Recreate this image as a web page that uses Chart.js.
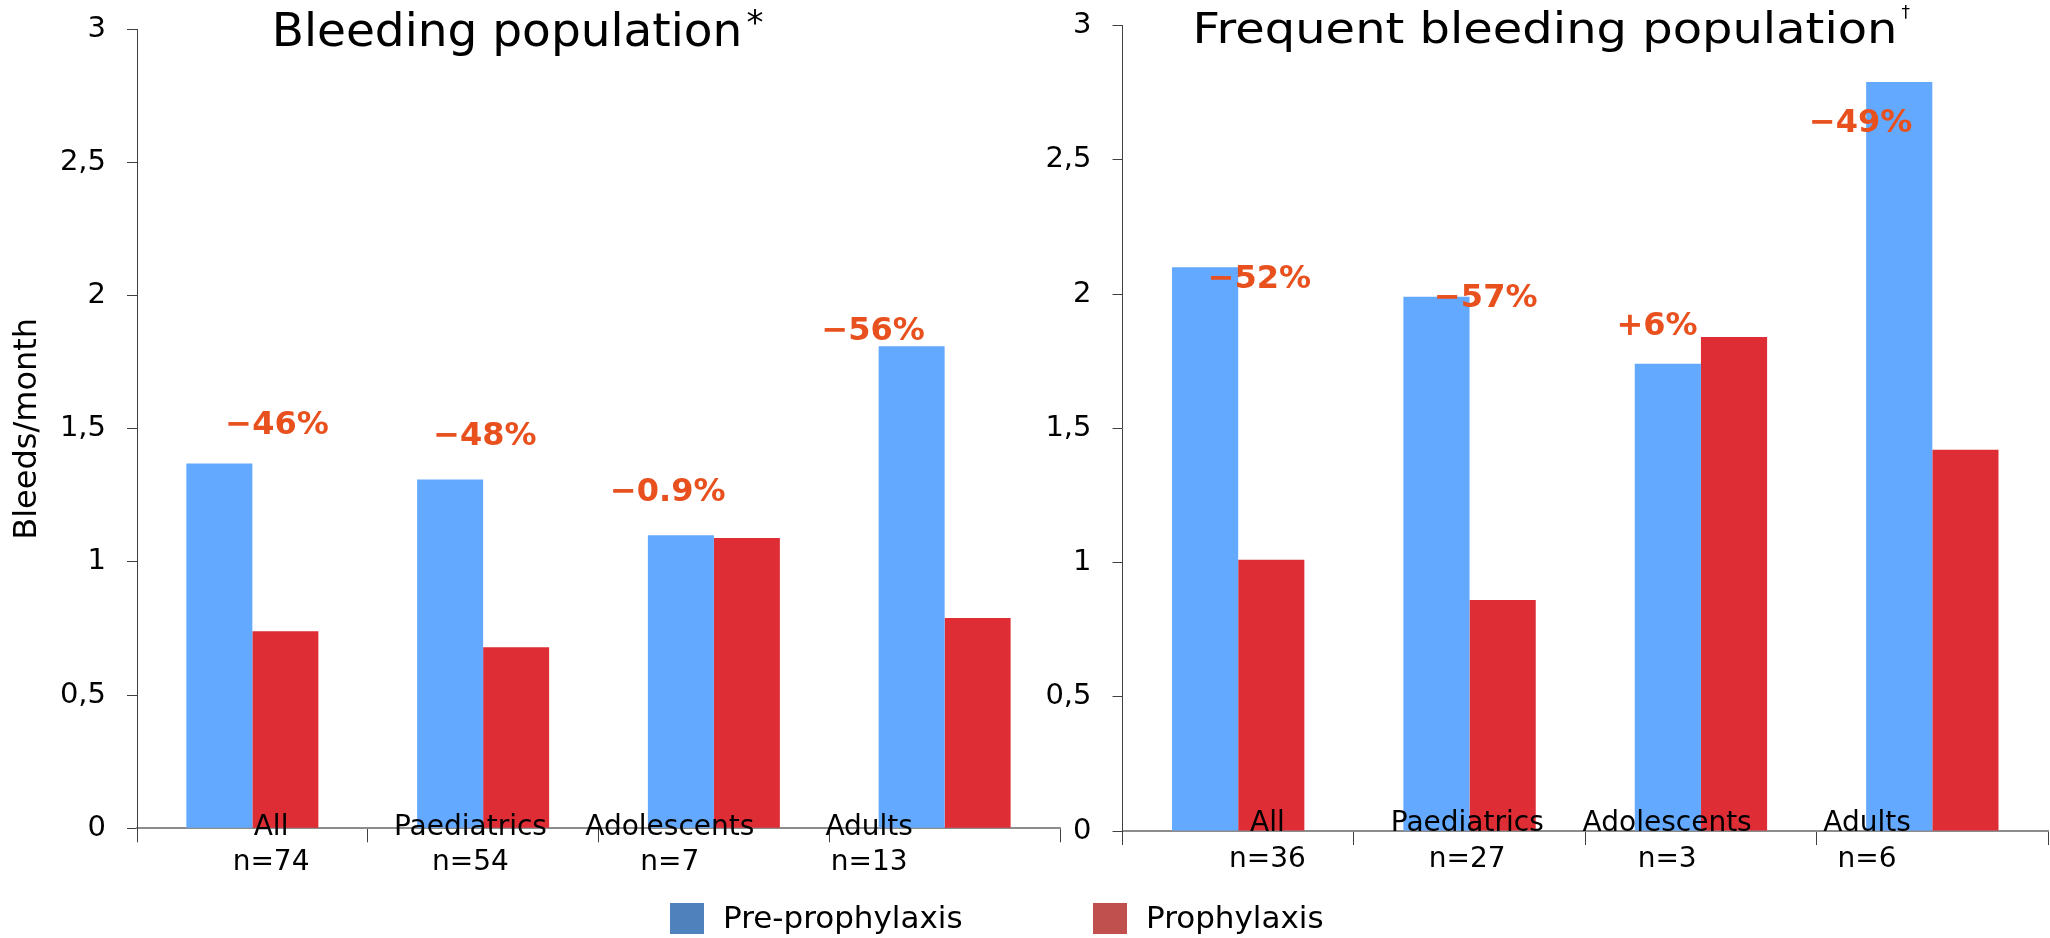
<!DOCTYPE html>
<html>
<head>
<meta charset="utf-8">
<title>Bleeds per month before and during prophylaxis</title>
<script src="https://cdn.jsdelivr.net/npm/chart.js@4.4.1/dist/chart.umd.min.js"></script>
<style>
  html, body { margin: 0; padding: 0; background: #ffffff; }
  #wrap { position: relative; width: 2050px; height: 938px; overflow: hidden; }
  #wrap canvas { position: absolute; left: 0; top: 0; }
</style>
</head>
<body>
<div id="wrap">
  <canvas id="bleedAll" width="2050" height="938"></canvas>
  <canvas id="bleedFrequent" width="2050" height="938"></canvas>
</div>
<script>
// ---- data ----
const groups = ['All', 'Paediatrics', 'Adolescents', 'Adults'];
const seriesNames = ['Pre-prophylaxis', 'Prophylaxis'];

// Bleeding population
const allCounts = ['n=74', 'n=54', 'n=7', 'n=13'];
const allPre = [1.37, 1.31, 1.10, 1.81];
const allProphy = [0.74, 0.68, 1.09, 0.79];
const allChange = ['\u221246%', '\u221248%', '\u22120.9%', '\u221256%'];

// Frequent bleeding population
const freqCounts = ['n=36', 'n=27', 'n=3', 'n=6'];
const freqPre = [2.10, 1.99, 1.74, 2.79];
const freqProphy = [1.01, 0.86, 1.84, 1.42];
const freqChange = ['\u221252%', '\u221257%', '+6%', '\u221249%'];

const yTickLabels = ['0', '0,5', '1', '1,5', '2', '2,5', '3'];

// ---- styling ----
const FONT = 'DejaVu Sans';
const BAR_COLORS = ['#63A9FF', '#DE2D35'];
const LEGEND_COLORS = ['#4F81BD', '#C0504D'];
const CHANGE_COLOR = '#E8501E';
const AXIS_DARK = '#404040';

Chart.defaults.font.family = FONT;
Chart.defaults.color = '#000';

function stretchedText(ctx, text, x, y, sx) {
  ctx.save();
  ctx.translate(x, y);
  ctx.scale(sx, 1);
  ctx.fillText(text, 0, 0);
  ctx.restore();
  return ctx.measureText(text).width * sx;
}

// Panel title, two-line group labels and the change annotations
const panelText = {
  id: 'panelText',
  afterDatasetsDraw(chart, args, o) {
    const { ctx, chartArea } = chart;
    const xs = chart.scales.x, ys = chart.scales.y;
    ctx.save();
    ctx.fillStyle = '#000';
    ctx.textBaseline = 'alphabetic';

    ctx.textAlign = 'left';
    ctx.font = `${o.titleSize}px "${FONT}"`;
    const tx = chartArea.left + o.titleIndent;
    const tw = stretchedText(ctx, o.title, tx, o.titleBaseline, o.titleStretch);
    ctx.font = `${o.supSize}px "${FONT}"`;
    ctx.fillText(o.sup, tx + tw + o.supGap, o.titleBaseline - o.supRise);

    ctx.textAlign = 'center';
    ctx.font = `28px "${FONT}"`;
    groups.forEach((g, i) => {
      const x = xs.getPixelForValue(o.labelStart + i * o.labelStep);
      ctx.fillText(g, x, chartArea.bottom + o.line1);
      ctx.fillText(o.counts[i], x, chartArea.bottom + o.line2);
    });

    ctx.font = `bold 32px "${FONT}"`;
    ctx.fillStyle = CHANGE_COLOR;
    o.changes.forEach((t, i) => {
      const [ax, ay] = o.anchors[i];
      ctx.fillText(t, xs.getPixelForValue(ax), ys.getPixelForValue(ay) + 11.7);
    });
    ctx.restore();
  }
};

// Shared legend row under both panels
const legendRow = {
  id: 'legendRow',
  afterDraw(chart, args, o) {
    if (!o.show) return;
    const ctx = chart.ctx;
    ctx.save();
    ctx.font = `31px "${FONT}"`;
    ctx.textBaseline = 'middle';
    ctx.textAlign = 'left';
    chart.data.datasets.forEach((ds, i) => {
      const x = o.x[i];
      ctx.fillStyle = LEGEND_COLORS[i];
      ctx.fillRect(x, o.y - 15.5, 34, 31);
      ctx.fillStyle = '#000';
      ctx.fillText(ds.label, x + 53, o.y + 1);
    });
    ctx.restore();
  }
};

function makePanel(id, pre, prophy, pad, showYTitle, text, legend) {
  return new Chart(document.getElementById(id), {
    type: 'bar',
    data: {
      labels: groups,
      datasets: [
        { label: seriesNames[0], data: pre, backgroundColor: BAR_COLORS[0], borderWidth: 0 },
        { label: seriesNames[1], data: prophy, backgroundColor: BAR_COLORS[1], borderWidth: 0 }
      ]
    },
    options: {
      responsive: false,
      animation: false,
      devicePixelRatio: 1,
      datasets: { bar: { categoryPercentage: 0.572, barPercentage: 1.0 } },
      layout: { padding: pad },
      plugins: {
        legend: { display: false },
        tooltip: { enabled: false },
        title: { display: false },
        panelText: text,
        legendRow: legend
      },
      scales: {
        x: {
          type: 'category',
          offset: true,
          grid: { display: true, offset: true, drawOnChartArea: false, drawTicks: true, tickLength: 14, color: AXIS_DARK, lineWidth: 1 },
          border: { display: true, color: '#8C8C8C', width: 2 },
          ticks: { display: false }
        },
        y: {
          min: 0,
          max: 3,
          ticks: {
            stepSize: 0.5,
            padding: 21,
            color: '#000',
            font: { family: FONT, size: 29 },
            callback: (v, i) => yTickLabels[i]
          },
          grid: { drawOnChartArea: false, drawTicks: true, tickLength: 10, color: AXIS_DARK, lineWidth: 1 },
          border: { display: true, color: AXIS_DARK, width: 1 },
          title: {
            display: showYTitle,
            text: 'Bleeds/month',
            color: '#000',
            font: { family: FONT, size: 32 },
            padding: { top: 8, bottom: 0 }
          },
          afterFit: s => { s.width = 137; s.paddingTop = 0; s.paddingBottom = 0; }
        }
      }
    },
    plugins: [panelText, legendRow]
  });
}

makePanel('bleedAll', allPre, allProphy,
  { left: 0, right: 990, top: 29.3, bottom: 95.7 }, true,
  {
    title: 'Bleeding population', sup: '*', titleSize: 47, titleStretch: 1, titleIndent: 134.7, titleBaseline: 46,
    supSize: 34, supRise: 12, supGap: 4,
    labelStart: 0.081, labelStep: 0.864, line1: 7, line2: 42,
    counts: allCounts, changes: allChange,
    anchors: [[0.107, 1.526], [1.008, 1.484], [1.80, 1.274], [2.69, 1.879]]
  },
  { show: false });

makePanel('bleedFrequent', freqPre, freqProphy,
  { left: 985.5, right: 2, top: 25.5, bottom: 93 }, false,
  {
    title: 'Frequent bleeding population', sup: '\u2020', titleSize: 42, titleStretch: 1.142, titleIndent: 70, titleBaseline: 43.3,
    supSize: 17, supRise: 25, supGap: 4,
    labelStart: 0.126, labelStep: 0.864, line1: 0, line2: 36,
    counts: freqCounts, changes: freqChange,
    anchors: [[0.092, 2.067], [1.07, 1.994], [1.81, 1.892], [2.69, 2.648]]
  },
  { show: true, x: [670, 1093], y: 918.5 });
</script>
</body>
</html>
